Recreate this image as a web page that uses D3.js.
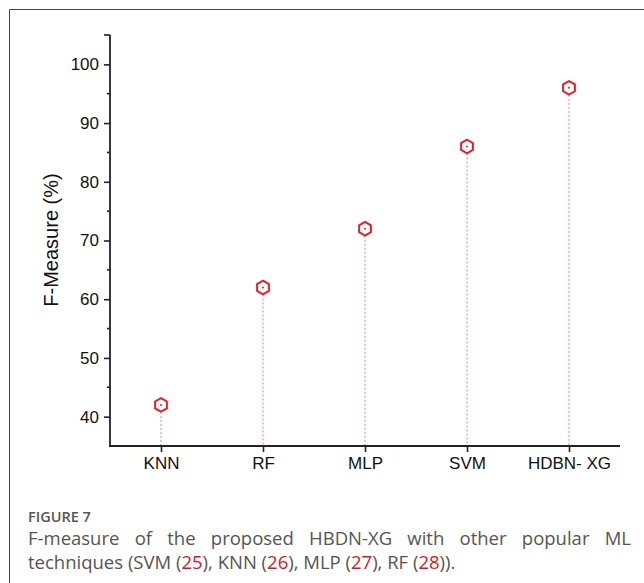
<!DOCTYPE html>
<html>
<head>
<meta charset="utf-8">
<script src="https://cdn.jsdelivr.net/npm/d3@7"></script>
<style>
  body { margin: 0; background: #fff; }
  svg { display: block; }
</style>
</head>
<body>
<script>
// data
const models = ["KNN", "RF", "MLP", "SVM", "HDBN- XG"];
const fMeasure = [42, 62, 72, 86, 96];
const yTicks = [40, 50, 60, 70, 80, 90, 100];
const yMinorTicks = [45, 55, 65, 75, 85, 95];

const width = 644, height = 583;
const svg = d3.select("body").append("svg")
    .attr("width", width)
    .attr("height", height);

// figure frame (only top and left edges are visible)
svg.append("path")
    .attr("d", "M9.5,583 V9.5 H644")
    .attr("fill", "none")
    .attr("stroke", "#444")
    .attr("stroke-width", 1);

// Scales
const x = d3.scalePoint().domain(models).range([110, 620]).padding(0.5);
const y = d3.scaleLinear().domain([35, 105]).range([446, 35]);

const axisColor = "#222";
const fontFamily = "'Liberation Sans', Arial, sans-serif";

// drop lines
svg.selectAll(".drop")
    .data(models)
    .enter().append("line")
    .attr("class", "drop")
    .attr("x1", d => x(d))
    .attr("x2", d => x(d))
    .attr("y1", (d, i) => y(fMeasure[i]) + 7)
    .attr("y2", y(35))
    .attr("stroke", "#f47c7c")
    .attr("stroke-width", 1)
    .attr("stroke-dasharray", "2,2");

// Y axis
const yAxis = svg.append("g")
    .attr("transform", "translate(110,0)")
    .call(d3.axisLeft(y).tickValues(yTicks).tickSize(6).tickPadding(5).tickSizeOuter(0));
yAxis.select(".domain").remove();
yAxis.selectAll("line").attr("stroke", axisColor).attr("stroke-width", 1.6);
yAxis.selectAll("text")
    .attr("fill", "#111")
    .style("font-family", fontFamily)
    .style("font-size", "17px");

svg.append("g")
    .selectAll("line")
    .data(yMinorTicks)
    .enter().append("line")
    .attr("x1", 107).attr("x2", 110)
    .attr("y1", d => y(d)).attr("y2", d => y(d))
    .attr("stroke", axisColor).attr("stroke-width", 1.6);

svg.append("line")
    .attr("x1", 110).attr("x2", 110)
    .attr("y1", y(105)).attr("y2", y(35) + 1)
    .attr("stroke", axisColor).attr("stroke-width", 1.8);
svg.append("line")
    .attr("x1", 104).attr("x2", 110)
    .attr("y1", y(105)).attr("y2", y(105))
    .attr("stroke", axisColor).attr("stroke-width", 1.6);

// X axis
const xAxis = svg.append("g")
    .attr("transform", `translate(0,${y(35)})`)
    .call(d3.axisBottom(x).tickSize(6).tickPadding(5).tickSizeOuter(0));
xAxis.select(".domain").remove();
xAxis.selectAll("line").attr("stroke", axisColor).attr("stroke-width", 1.6);
xAxis.selectAll("text")
    .attr("fill", "#111")
    .style("font-family", fontFamily)
    .style("font-size", "17px");
svg.append("line")
    .attr("x1", 109).attr("x2", 620)
    .attr("y1", y(35)).attr("y2", y(35))
    .attr("stroke", axisColor).attr("stroke-width", 1.8);

// axis label
svg.append("text")
    .attr("transform", "translate(58,240) rotate(-90)")
    .attr("text-anchor", "middle")
    .attr("fill", "#111")
    .style("font-family", fontFamily)
    .style("font-size", "20px")
    .text("F-Measure (%)");

// hexagon markers
const hex = d3.range(6).map(k => {
    const a = Math.PI / 3 * k - Math.PI / 2;
    return [6.8 * Math.cos(a), 6.8 * Math.sin(a)];
});
const markers = svg.selectAll(".pt")
    .data(models)
    .enter().append("g")
    .attr("class", "pt")
    .attr("transform", (d, i) => `translate(${x(d)},${y(fMeasure[i])})`);
markers.append("polygon")
    .attr("points", hex.map(p => p.join(",")).join(" "))
    .attr("fill", "none")
    .attr("stroke", "#ee1c24")
    .attr("stroke-width", 2);
markers.append("circle")
    .attr("r", 1)
    .attr("fill", "#ee1c24");

// caption
const capFont = "'Open Sans', 'Noto Sans', sans-serif";
svg.append("text")
    .attr("x", 28).attr("y", 522)
    .attr("fill", "#555")
    .style("font-family", capFont)
    .style("font-size", "14.5px")
    .style("font-weight", 600)
    .text("FIGURE 7");

// first caption line, justified
const line1 = "F-measure of the proposed HBDN-XG with other popular ML".split(" ");
const g1 = svg.append("g");
const words = g1.selectAll("text")
    .data(line1)
    .enter().append("text")
    .attr("y", 545)
    .attr("fill", "#555")
    .style("font-family", capFont)
    .style("font-size", "18.5px")
    .text(d => d);
const widths = [];
words.each(function () { widths.push(this.getComputedTextLength()); });
const gap = (631 - 28 - d3.sum(widths)) / (line1.length - 1);
let cx = 28;
words.attr("x", (d, i) => { const v = cx; cx += widths[i] + gap; return v; });

// second caption line with red reference numbers
const line2 = [
    ["techniques (SVM (", "#555"], ["25", "#e0141e"], ["), KNN (", "#555"], ["26", "#e0141e"],
    ["), MLP (", "#555"], ["27", "#e0141e"], ["), RF (", "#555"], ["28", "#e0141e"], [")).", "#555"]
];
const t2 = svg.append("text")
    .attr("x", 28).attr("y", 569)
    .style("font-family", capFont)
    .style("font-size", "18.5px");
t2.selectAll("tspan")
    .data(line2)
    .enter().append("tspan")
    .attr("fill", d => d[1])
    .text(d => d[0]);
</script>
</body>
</html>
